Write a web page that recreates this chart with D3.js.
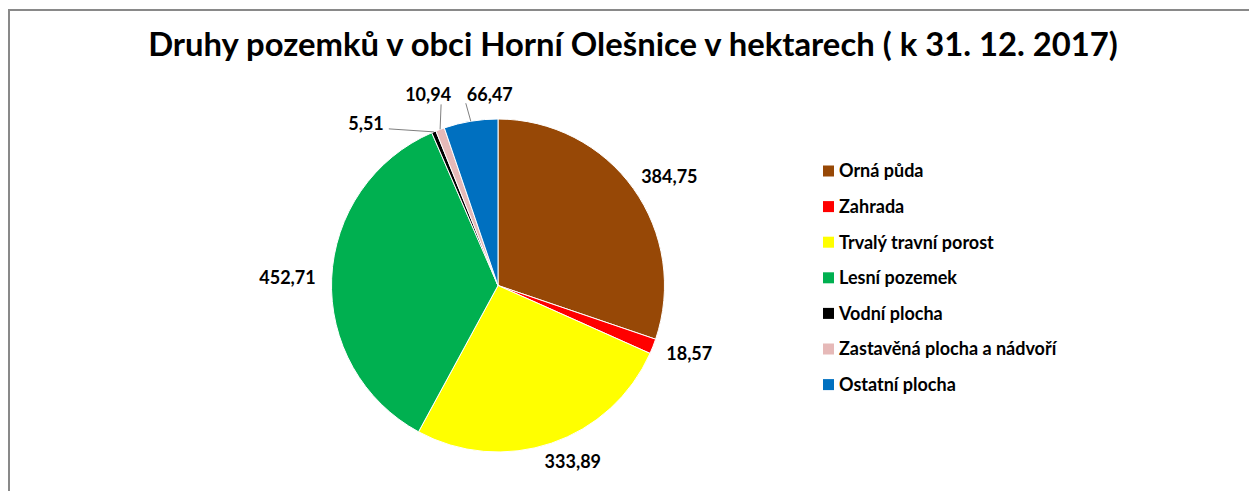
<!DOCTYPE html>
<html lang="cs">
<head>
<meta charset="UTF-8">
<script src="https://d3js.org/d3.v7.min.js"></script>
<title>Druhy pozemků</title>
<style>
  body { margin: 0; background: #fff; }
  svg text { font-family: Lato, "Open Sans", sans-serif; font-weight: bold; fill: #000; }
</style>
</head>
<body>
<svg id="chart"></svg>
<script>
// data
const categories = ["Orná půda", "Zahrada", "Trvalý travní porost", "Lesní pozemek",
                    "Vodní plocha", "Zastavěná plocha a nádvoří", "Ostatní plocha"];
const values = [384.75, 18.57, 333.89, 452.71, 5.51, 10.94, 66.47];
const colors = ["#974806", "#ff0000", "#ffff00", "#00b050", "#000000", "#e6b9b8", "#0070c0"];
const title = "Druhy pozemků v obci Horní Olešnice v hektarech ( k 31. 12. 2017)";

const width = 1249, height = 491;
const cx = 498, cy = 285.5, radius = 166.5;
const fmt = v => d3.format(".2f")(v).replace(".", ",");

const svg = d3.select("#chart").attr("width", width).attr("height", height);

// chart frame (cut at the right and bottom)
svg.append("rect").attr("x", 9).attr("y", 10).attr("width", 1400).attr("height", 700)
    .attr("fill", "none").attr("stroke", "#898989").attr("stroke-width", 2);

// title, fitted to its width
const t = svg.append("text").attr("x", 633).attr("y", 56).attr("text-anchor", "middle")
    .attr("font-size", 30).text(title);
const tw = t.node().getComputedTextLength();
t.attr("font-size", 30 * 970 / tw);

const data = categories.map((c, i) => ({ name: c, value: values[i], color: colors[i] }));
const pie = d3.pie().value(d => d.value).sort(null);
const arcs = pie(data);
const arc = d3.arc().innerRadius(0).outerRadius(radius);

const g = svg.append("g").attr("transform", `translate(${cx},${cy})`);
g.selectAll("path").data(arcs).enter().append("path")
    .attr("d", arc)
    .attr("fill", d => d.data.color)
    .attr("stroke", "#fff").attr("stroke-width", 1);

// labels
const labelSize = 18;
function mid(d) { return (d.startAngle + d.endAngle) / 2; }
// small slices get a leader line: [dx, dy] of line end from the edge point, label side
const leaders = { 4: [-45, -3, "left"], 5: [1, -25, "up"], 6: [-5, -18, "upright"] };

arcs.forEach((d, i) => {
    const a = mid(d);
    const s = Math.sin(a), c = -Math.cos(a);
    const txt = fmt(d.value);
    if (leaders[i]) {
        const [dx, dy, side] = leaders[i];
        const ex = s * radius, ey = c * radius;
        const lx = ex + dx, ly = ey + dy;
        g.append("line").attr("x1", ex).attr("y1", ey).attr("x2", lx).attr("y2", ly)
            .attr("stroke", "#7f7f7f").attr("stroke-width", 1);
        const lab = g.append("text").attr("font-size", labelSize).attr("dy", "0.35em").text(txt);
        if (side === "left") lab.attr("x", lx - 5).attr("y", ly - 5).attr("text-anchor", "end");
        else if (side === "up") lab.attr("x", lx - 13).attr("y", ly - 10).attr("text-anchor", "middle");
        else lab.attr("x", lx + 1).attr("y", ly - 9).attr("text-anchor", "start");
    } else {
        const lab = g.append("text").attr("font-size", labelSize).attr("dy", "0.35em")
            .attr("text-anchor", "middle").text(txt);
        const w = lab.node().getComputedTextLength();
        const p = radius + 12;
        // keep the label box clear of the circle, leaning away from the vertical axis
        const lean = Math.abs(c) > 0.9 ? 1.8 : 1;
        lab.attr("x", s * p + s * lean * w / 2 + 4 * s).attr("y", c * p + c * 8);
    }
});

// legend
const legend = svg.append("g").attr("transform", "translate(823,171)");
const row = legend.selectAll("g").data(data).enter().append("g")
    .attr("transform", (d, i) => `translate(0,${i * 35.6})`);
row.append("rect").attr("x", 0).attr("y", -5.5).attr("width", 11).attr("height", 11)
    .attr("fill", d => d.color);
row.append("text").attr("x", 16).attr("dy", "0.36em").attr("font-size", 18).text(d => d.name);
</script>
</body>
</html>
